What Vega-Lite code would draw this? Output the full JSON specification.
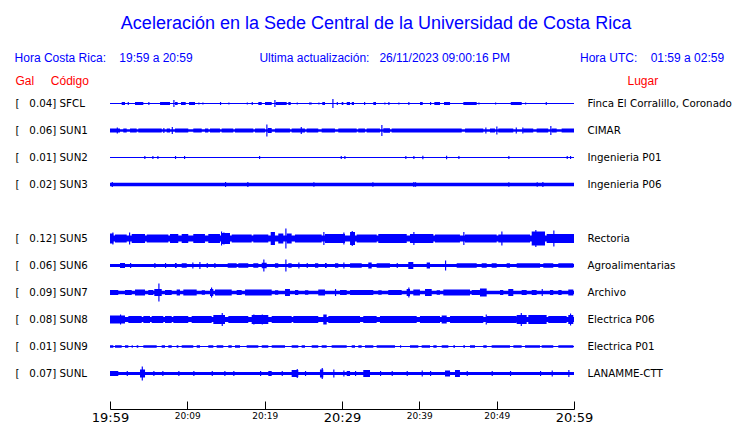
{
"$schema":"https://vega.github.io/schema/vega-lite/v6.json",
"width":464,"height":319,
"autosize":{"type":"none"},
"padding":{"left":110,"top":90,"right":166,"bottom":14},
"background":"white",
"config":{"view":{"stroke":null},"font":"DejaVu Sans"},
"title":{"text":"Aceleración en la Sede Central de la Universidad de Costa Rica","subtitle":"Hora Costa Rica:\u00a0\u00a0\u00a0\u00a019:59 a 20:59\u00a0\u00a0\u00a0\u00a0\u00a0\u00a0\u00a0\u00a0\u00a0\u00a0\u00a0\u00a0\u00a0\u00a0\u00a0\u00a0\u00a0\u00a0\u00a0\u00a0Ultima actualización:\u00a0\u00a0\u00a026/11/2023 09:00:16 PM\u00a0\u00a0\u00a0\u00a0\u00a0\u00a0\u00a0\u00a0\u00a0\u00a0\u00a0\u00a0\u00a0\u00a0\u00a0\u00a0\u00a0\u00a0\u00a0\u00a0\u00a0Hora UTC:\u00a0\u00a0\u00a0\u00a001:59 a 02:59\u00a0\u00a0\u00a0\u00a0\u200b","color":"#0000ff","subtitleColor":"#0000ff","font":"Liberation Sans","subtitleFont":"Liberation Sans","fontSize":18,"subtitleFontSize":12,"fontWeight":"normal","anchor":"middle","offset":10,"subtitlePadding":20,"dx":34},
"datasets":{
"stations":[
{"s":"SFCL","left":"[\u00a0\u00a0\u00a00.04] SFCL","lugar":"Finca El Corralillo, Coronado","m0":0,"m1":60,"a":1},
{"s":"SUN1","left":"[\u00a0\u00a0\u00a00.06] SUN1","lugar":"CIMAR","m0":0,"m1":60,"a":2.5},
{"s":"SUN2","left":"[\u00a0\u00a0\u00a00.01] SUN2","lugar":"Ingenieria P01","m0":0,"m1":60,"a":1},
{"s":"SUN3","left":"[\u00a0\u00a0\u00a00.02] SUN3","lugar":"Ingenieria P06","m0":0,"m1":60,"a":3.5},
{"s":"SUN5","left":"[\u00a0\u00a0\u00a00.12] SUN5","lugar":"Rectoria","m0":0,"m1":60,"a":6},
{"s":"SUN6","left":"[\u00a0\u00a0\u00a00.06] SUN6","lugar":"Agroalimentarias","m0":0,"m1":60,"a":3},
{"s":"SUN7","left":"[\u00a0\u00a0\u00a00.09] SUN7","lugar":"Archivo","m0":0,"m1":60,"a":3.3},
{"s":"SUN8","left":"[\u00a0\u00a0\u00a00.08] SUN8","lugar":"Electrica P06","m0":0,"m1":60,"a":5},
{"s":"SUN9","left":"[\u00a0\u00a0\u00a00.01] SUN9","lugar":"Electrica P01","m0":0,"m1":60,"a":1},
{"s":"SUNL","left":"[\u00a0\u00a0\u00a00.07] SUNL","lugar":"LANAMME-CTT","m0":0,"m1":60,"a":3}
],
"segments":[
{"s":"SFCL","m0":1.51,"m1":1.94,"a":3},{"s":"SFCL","m0":2.29,"m1":2.44,"a":3},{"s":"SFCL","m0":3.23,"m1":4.31,"a":3},{"s":"SFCL","m0":4.95,"m1":5.1,"a":3},{"s":"SFCL","m0":6.47,"m1":7.76,"a":3},{"s":"SFCL","m0":8.19,"m1":8.34,"a":7},{"s":"SFCL","m0":8.41,"m1":8.75,"a":3},{"s":"SFCL","m0":9.18,"m1":9.79,"a":3},{"s":"SFCL","m0":10.22,"m1":10.99,"a":3},{"s":"SFCL","m0":11.42,"m1":11.57,"a":2},{"s":"SFCL","m0":11.94,"m1":12.09,"a":2},{"s":"SFCL","m0":14.22,"m1":14.37,"a":3},{"s":"SFCL","m0":15.3,"m1":15.45,"a":2},{"s":"SFCL","m0":17.68,"m1":17.83,"a":2},{"s":"SFCL","m0":18.32,"m1":18.47,"a":3},{"s":"SFCL","m0":19.18,"m1":19.62,"a":3},{"s":"SFCL","m0":20.04,"m1":20.91,"a":3},{"s":"SFCL","m0":21.25,"m1":21.4,"a":7},{"s":"SFCL","m0":21.43,"m1":22.85,"a":3},{"s":"SFCL","m0":23.06,"m1":23.37,"a":3},{"s":"SFCL","m0":24.14,"m1":24.29,"a":2},{"s":"SFCL","m0":25.73,"m1":26.08,"a":2},{"s":"SFCL","m0":26.94,"m1":27.09,"a":2},{"s":"SFCL","m0":27.45,"m1":27.8,"a":3},{"s":"SFCL","m0":28.75,"m1":28.9,"a":9},{"s":"SFCL","m0":29.32,"m1":29.47,"a":3},{"s":"SFCL","m0":29.96,"m1":30.17,"a":3},{"s":"SFCL","m0":30.61,"m1":31.04,"a":3},{"s":"SFCL","m0":31.26,"m1":31.55,"a":3},{"s":"SFCL","m0":32.85,"m1":33.0,"a":3},{"s":"SFCL","m0":34.05,"m1":34.4,"a":3},{"s":"SFCL","m0":35.47,"m1":35.62,"a":2},{"s":"SFCL","m0":35.99,"m1":36.14,"a":3},{"s":"SFCL","m0":37.28,"m1":37.43,"a":2},{"s":"SFCL","m0":38.57,"m1":38.72,"a":3},{"s":"SFCL","m0":40.09,"m1":40.44,"a":3},{"s":"SFCL","m0":41.38,"m1":41.53,"a":3},{"s":"SFCL","m0":41.94,"m1":42.67,"a":3},{"s":"SFCL","m0":43.19,"m1":43.97,"a":3},{"s":"SFCL","m0":45.69,"m1":47.42,"a":3},{"s":"SFCL","m0":47.63,"m1":47.78,"a":2},{"s":"SFCL","m0":49.79,"m1":49.94,"a":2},{"s":"SFCL","m0":51.82,"m1":53.24,"a":3},{"s":"SFCL","m0":53.67,"m1":53.82,"a":2},{"s":"SFCL","m0":56.34,"m1":56.49,"a":3},
{"s":"SUN1","m0":0,"m1":1.29,"a":4},{"s":"SUN1","m0":0.87,"m1":1.02,"a":6},{"s":"SUN1","m0":1.72,"m1":2.16,"a":4},{"s":"SUN1","m0":2.59,"m1":3.45,"a":4},{"s":"SUN1","m0":3.66,"m1":6.69,"a":4},{"s":"SUN1","m0":6.89,"m1":7.04,"a":5},{"s":"SUN1","m0":7.33,"m1":7.76,"a":4},{"s":"SUN1","m0":7.98,"m1":8.13,"a":7},{"s":"SUN1","m0":8.4,"m1":10.12,"a":4},{"s":"SUN1","m0":10.77,"m1":11.86,"a":4},{"s":"SUN1","m0":12.28,"m1":12.71,"a":4},{"s":"SUN1","m0":12.93,"m1":14.22,"a":4},{"s":"SUN1","m0":14.44,"m1":15.94,"a":4},{"s":"SUN1","m0":16.16,"m1":18.53,"a":4},{"s":"SUN1","m0":18.75,"m1":20.04,"a":4},{"s":"SUN1","m0":20.21,"m1":20.36,"a":12},{"s":"SUN1","m0":20.39,"m1":20.91,"a":5},{"s":"SUN1","m0":21.33,"m1":23.27,"a":4},{"s":"SUN1","m0":23.49,"m1":25.21,"a":4},{"s":"SUN1","m0":24.66,"m1":24.81,"a":7},{"s":"SUN1","m0":25.43,"m1":26.93,"a":4},{"s":"SUN1","m0":27.37,"m1":29.09,"a":4},{"s":"SUN1","m0":29.52,"m1":31.9,"a":4},{"s":"SUN1","m0":32.1,"m1":32.97,"a":4},{"s":"SUN1","m0":33.19,"m1":34.91,"a":4},{"s":"SUN1","m0":35.08,"m1":35.23,"a":11},{"s":"SUN1","m0":35.34,"m1":36.2,"a":4.5},{"s":"SUN1","m0":36.42,"m1":45.48,"a":4},{"s":"SUN1","m0":45.91,"m1":48.27,"a":4},{"s":"SUN1","m0":48.53,"m1":48.68,"a":6},{"s":"SUN1","m0":49.13,"m1":49.78,"a":4},{"s":"SUN1","m0":49.95,"m1":50.1,"a":8},{"s":"SUN1","m0":50.21,"m1":52.15,"a":4},{"s":"SUN1","m0":52.46,"m1":52.61,"a":6},{"s":"SUN1","m0":53.31,"m1":53.46,"a":6},{"s":"SUN1","m0":53.44,"m1":54.73,"a":4},{"s":"SUN1","m0":55.17,"m1":56.67,"a":4},{"s":"SUN1","m0":56.93,"m1":57.08,"a":9},{"s":"SUN1","m0":57.11,"m1":57.76,"a":4},{"s":"SUN1","m0":58.4,"m1":60,"a":4},
{"s":"SUN2","m0":4.43,"m1":4.58,"a":3},{"s":"SUN2","m0":5.47,"m1":5.62,"a":3},{"s":"SUN2","m0":6.12,"m1":6.27,"a":3},{"s":"SUN2","m0":8.4,"m1":8.55,"a":3},{"s":"SUN2","m0":9.57,"m1":9.72,"a":3},{"s":"SUN2","m0":19.27,"m1":19.42,"a":3},{"s":"SUN2","m0":29.83,"m1":29.98,"a":3},{"s":"SUN2","m0":30.3,"m1":30.45,"a":3},{"s":"SUN2","m0":38.18,"m1":38.33,"a":3},{"s":"SUN2","m0":39.22,"m1":39.37,"a":3},{"s":"SUN2","m0":40.38,"m1":40.53,"a":3.5},{"s":"SUN2","m0":43.45,"m1":43.6,"a":3.5},{"s":"SUN2","m0":45.04,"m1":45.19,"a":3},{"s":"SUN2","m0":51.5,"m1":51.65,"a":3},{"s":"SUN2","m0":59.05,"m1":59.2,"a":3},{"s":"SUN2","m0":59.48,"m1":59.63,"a":3},
{"s":"SUN3","m0":0.22,"m1":0.37,"a":5},{"s":"SUN3","m0":14.87,"m1":15.02,"a":5},{"s":"SUN3","m0":17.75,"m1":17.9,"a":5},{"s":"SUN3","m0":26.29,"m1":26.44,"a":4.5},{"s":"SUN3","m0":33.92,"m1":34.07,"a":4.5},{"s":"SUN3","m0":39.22,"m1":39.37,"a":5},{"s":"SUN3","m0":39.44,"m1":39.59,"a":4.5},{"s":"SUN3","m0":51.5,"m1":51.65,"a":4.5},{"s":"SUN3","m0":55.17,"m1":55.32,"a":4.5},{"s":"SUN3","m0":55.9,"m1":56.05,"a":5},
{"s":"SUN5","m0":0,"m1":0.43,"a":10},{"s":"SUN5","m0":0.3,"m1":0.45,"a":12},{"s":"SUN5","m0":0.65,"m1":2.16,"a":8},{"s":"SUN5","m0":2.46,"m1":2.61,"a":12},{"s":"SUN5","m0":2.81,"m1":4.53,"a":9},{"s":"SUN5","m0":4.75,"m1":7.54,"a":8},{"s":"SUN5","m0":7.76,"m1":8.83,"a":9},{"s":"SUN5","m0":9.27,"m1":10.12,"a":9},{"s":"SUN5","m0":10.77,"m1":12.28,"a":9},{"s":"SUN5","m0":12.71,"m1":14.22,"a":9},{"s":"SUN5","m0":14.35,"m1":14.5,"a":14},{"s":"SUN5","m0":14.65,"m1":14.8,"a":12},{"s":"SUN5","m0":14.44,"m1":15.52,"a":11},{"s":"SUN5","m0":15.74,"m1":18.32,"a":8},{"s":"SUN5","m0":18.53,"m1":20.47,"a":8},{"s":"SUN5","m0":20.78,"m1":21.33,"a":13},{"s":"SUN5","m0":21.76,"m1":22.41,"a":10},{"s":"SUN5","m0":22.67,"m1":22.82,"a":20},{"s":"SUN5","m0":22.85,"m1":23.49,"a":10},{"s":"SUN5","m0":23.92,"m1":27.37,"a":8},{"s":"SUN5","m0":27.58,"m1":27.73,"a":13},{"s":"SUN5","m0":27.8,"m1":30.39,"a":9},{"s":"SUN5","m0":30.17,"m1":30.32,"a":12},{"s":"SUN5","m0":31.04,"m1":31.68,"a":13},{"s":"SUN5","m0":31.25,"m1":31.4,"a":15},{"s":"SUN5","m0":31.9,"m1":34.49,"a":8},{"s":"SUN5","m0":34.69,"m1":38.37,"a":9},{"s":"SUN5","m0":38.79,"m1":41.81,"a":9},{"s":"SUN5","m0":39.22,"m1":39.37,"a":13},{"s":"SUN5","m0":42.02,"m1":45.25,"a":8},{"s":"SUN5","m0":45.68,"m1":45.83,"a":13},{"s":"SUN5","m0":45.9,"m1":50.0,"a":8},{"s":"SUN5","m0":50.6,"m1":50.75,"a":14},{"s":"SUN5","m0":50.21,"m1":54.31,"a":8},{"s":"SUN5","m0":54.53,"m1":56.25,"a":14},{"s":"SUN5","m0":54.99,"m1":55.14,"a":17},{"s":"SUN5","m0":56.47,"m1":60,"a":9},{"s":"SUN5","m0":57.32,"m1":57.47,"a":16},
{"s":"SUN6","m0":1.29,"m1":1.94,"a":5},{"s":"SUN6","m0":2.59,"m1":2.74,"a":5},{"s":"SUN6","m0":5.73,"m1":5.88,"a":5},{"s":"SUN6","m0":7.11,"m1":7.26,"a":5},{"s":"SUN6","m0":8.4,"m1":8.62,"a":5},{"s":"SUN6","m0":9.27,"m1":9.92,"a":4.5},{"s":"SUN6","m0":10.64,"m1":10.79,"a":6},{"s":"SUN6","m0":11.55,"m1":11.7,"a":7},{"s":"SUN6","m0":12.5,"m1":12.65,"a":5},{"s":"SUN6","m0":13.49,"m1":13.64,"a":5},{"s":"SUN6","m0":15.22,"m1":16.38,"a":4.5},{"s":"SUN6","m0":16.59,"m1":17.88,"a":4.5},{"s":"SUN6","m0":18.53,"m1":19.18,"a":4.5},{"s":"SUN6","m0":19.62,"m1":20.26,"a":5.5},{"s":"SUN6","m0":19.82,"m1":19.97,"a":12},{"s":"SUN6","m0":21.33,"m1":21.76,"a":4.5},{"s":"SUN6","m0":22.67,"m1":22.82,"a":12},{"s":"SUN6","m0":23.05,"m1":23.49,"a":4.5},{"s":"SUN6","m0":24.35,"m1":24.5,"a":6},{"s":"SUN6","m0":25.43,"m1":25.58,"a":5},{"s":"SUN6","m0":26.51,"m1":26.93,"a":4.5},{"s":"SUN6","m0":27.8,"m1":28.02,"a":5},{"s":"SUN6","m0":29.09,"m1":29.52,"a":4.5},{"s":"SUN6","m0":30.17,"m1":30.32,"a":6},{"s":"SUN6","m0":31.04,"m1":32.55,"a":4.5},{"s":"SUN6","m0":33.4,"m1":33.84,"a":6},{"s":"SUN6","m0":34.48,"m1":36.2,"a":4.5},{"s":"SUN6","m0":37.07,"m1":37.22,"a":5},{"s":"SUN6","m0":38.57,"m1":39.22,"a":7},{"s":"SUN6","m0":40.95,"m1":41.38,"a":6},{"s":"SUN6","m0":43.32,"m1":43.47,"a":10},{"s":"SUN6","m0":44.83,"m1":47.42,"a":4.5},{"s":"SUN6","m0":48.06,"m1":48.71,"a":4.5},{"s":"SUN6","m0":49.35,"m1":50.0,"a":4.5},{"s":"SUN6","m0":51.29,"m1":51.72,"a":4.5},{"s":"SUN6","m0":52.59,"m1":55.61,"a":4.5},{"s":"SUN6","m0":56.03,"m1":57.32,"a":4.5},{"s":"SUN6","m0":57.97,"m1":59.91,"a":4.5},
{"s":"SUN7","m0":0,"m1":1.07,"a":5},{"s":"SUN7","m0":1.94,"m1":2.81,"a":5},{"s":"SUN7","m0":3.23,"m1":4.53,"a":6},{"s":"SUN7","m0":4.95,"m1":5.6,"a":5},{"s":"SUN7","m0":5.73,"m1":6.69,"a":7},{"s":"SUN7","m0":6.25,"m1":6.4,"a":18},{"s":"SUN7","m0":7.11,"m1":7.98,"a":5},{"s":"SUN7","m0":8.62,"m1":9.05,"a":6},{"s":"SUN7","m0":9.48,"m1":11.21,"a":6},{"s":"SUN7","m0":11.86,"m1":12.28,"a":4.5},{"s":"SUN7","m0":12.93,"m1":13.36,"a":7},{"s":"SUN7","m0":13.06,"m1":13.21,"a":10},{"s":"SUN7","m0":13.58,"m1":15.74,"a":6},{"s":"SUN7","m0":16.38,"m1":17.03,"a":5},{"s":"SUN7","m0":17.46,"m1":20.91,"a":6},{"s":"SUN7","m0":21.33,"m1":21.76,"a":4.5},{"s":"SUN7","m0":22.63,"m1":23.27,"a":7},{"s":"SUN7","m0":23.92,"m1":24.35,"a":5},{"s":"SUN7","m0":25.21,"m1":25.65,"a":4.5},{"s":"SUN7","m0":26.93,"m1":27.8,"a":6},{"s":"SUN7","m0":29.09,"m1":29.24,"a":7},{"s":"SUN7","m0":29.74,"m1":30.61,"a":5},{"s":"SUN7","m0":31.04,"m1":34.05,"a":5},{"s":"SUN7","m0":34.69,"m1":35.13,"a":4.5},{"s":"SUN7","m0":35.98,"m1":37.72,"a":5},{"s":"SUN7","m0":38.36,"m1":38.79,"a":7},{"s":"SUN7","m0":38.57,"m1":38.72,"a":10},{"s":"SUN7","m0":39.22,"m1":40.08,"a":6},{"s":"SUN7","m0":40.73,"m1":41.6,"a":7},{"s":"SUN7","m0":42.24,"m1":42.67,"a":4.5},{"s":"SUN7","m0":43.1,"m1":46.55,"a":6},{"s":"SUN7","m0":46.77,"m1":47.84,"a":5},{"s":"SUN7","m0":47.84,"m1":48.71,"a":8},{"s":"SUN7","m0":50.43,"m1":50.86,"a":5},{"s":"SUN7","m0":51.5,"m1":52.15,"a":7},{"s":"SUN7","m0":53.23,"m1":53.88,"a":5},{"s":"SUN7","m0":54.53,"m1":55.17,"a":5},{"s":"SUN7","m0":55.82,"m1":55.97,"a":7},{"s":"SUN7","m0":56.89,"m1":57.32,"a":5},{"s":"SUN7","m0":57.97,"m1":58.4,"a":5},{"s":"SUN7","m0":59.26,"m1":59.91,"a":6},
{"s":"SUN8","m0":0,"m1":1.94,"a":8},{"s":"SUN8","m0":1.29,"m1":1.44,"a":10},{"s":"SUN8","m0":2.37,"m1":4.1,"a":7},{"s":"SUN8","m0":4.31,"m1":5.17,"a":7},{"s":"SUN8","m0":5.39,"m1":6.89,"a":7},{"s":"SUN8","m0":7.11,"m1":7.98,"a":7},{"s":"SUN8","m0":8.19,"m1":10.12,"a":7},{"s":"SUN8","m0":10.56,"m1":13.15,"a":7},{"s":"SUN8","m0":13.36,"m1":14.87,"a":9},{"s":"SUN8","m0":14.44,"m1":14.59,"a":13},{"s":"SUN8","m0":15.3,"m1":17.88,"a":7},{"s":"SUN8","m0":18.32,"m1":20.47,"a":9},{"s":"SUN8","m0":18.53,"m1":18.68,"a":10},{"s":"SUN8","m0":19.62,"m1":19.77,"a":10},{"s":"SUN8","m0":20.91,"m1":23.49,"a":7},{"s":"SUN8","m0":23.7,"m1":26.93,"a":7},{"s":"SUN8","m0":27.58,"m1":28.02,"a":10},{"s":"SUN8","m0":28.23,"m1":32.33,"a":7},{"s":"SUN8","m0":32.75,"m1":34.48,"a":7},{"s":"SUN8","m0":34.91,"m1":39.66,"a":7},{"s":"SUN8","m0":40.08,"m1":42.67,"a":7},{"s":"SUN8","m0":42.89,"m1":43.54,"a":8},{"s":"SUN8","m0":43.97,"m1":48.27,"a":7},{"s":"SUN8","m0":48.58,"m1":48.73,"a":10},{"s":"SUN8","m0":48.71,"m1":52.59,"a":7},{"s":"SUN8","m0":52.59,"m1":53.88,"a":9},{"s":"SUN8","m0":53.11,"m1":53.26,"a":13},{"s":"SUN8","m0":54.09,"m1":56.46,"a":9},{"s":"SUN8","m0":56.67,"m1":59.05,"a":7},{"s":"SUN8","m0":59.26,"m1":59.91,"a":9},{"s":"SUN8","m0":59.48,"m1":59.63,"a":12},
{"s":"SUN9","m0":0,"m1":0.43,"a":2.5},{"s":"SUN9","m0":0.65,"m1":1.51,"a":2.5},{"s":"SUN9","m0":1.94,"m1":2.37,"a":2.5},{"s":"SUN9","m0":2.8,"m1":2.95,"a":2.5},{"s":"SUN9","m0":3.45,"m1":3.66,"a":2.5},{"s":"SUN9","m0":4.31,"m1":6.04,"a":2.5},{"s":"SUN9","m0":6.68,"m1":7.11,"a":2.5},{"s":"SUN9","m0":7.54,"m1":7.98,"a":2.5},{"s":"SUN9","m0":8.62,"m1":8.84,"a":2.5},{"s":"SUN9","m0":9.27,"m1":10.77,"a":2.5},{"s":"SUN9","m0":11.21,"m1":11.64,"a":2.5},{"s":"SUN9","m0":12.71,"m1":13.36,"a":2.5},{"s":"SUN9","m0":13.79,"m1":14.65,"a":2.5},{"s":"SUN9","m0":15.3,"m1":15.74,"a":2.5},{"s":"SUN9","m0":16.16,"m1":16.81,"a":2.5},{"s":"SUN9","m0":17.67,"m1":19.18,"a":2.5},{"s":"SUN9","m0":19.62,"m1":20.47,"a":2.5},{"s":"SUN9","m0":20.91,"m1":22.63,"a":2.5},{"s":"SUN9","m0":23.49,"m1":24.35,"a":2.5},{"s":"SUN9","m0":24.78,"m1":25.21,"a":2.5},{"s":"SUN9","m0":26.08,"m1":26.93,"a":2.5},{"s":"SUN9","m0":27.37,"m1":28.02,"a":2.5},{"s":"SUN9","m0":28.66,"m1":30.61,"a":2.5},{"s":"SUN9","m0":31.25,"m1":31.68,"a":2.5},{"s":"SUN9","m0":32.11,"m1":32.54,"a":2.5},{"s":"SUN9","m0":32.97,"m1":34.05,"a":2.5},{"s":"SUN9","m0":34.48,"m1":36.85,"a":2.5},{"s":"SUN9","m0":37.5,"m1":37.65,"a":2.5},{"s":"SUN9","m0":38.79,"m1":39.87,"a":2.5},{"s":"SUN9","m0":40.3,"m1":41.38,"a":2.5},{"s":"SUN9","m0":41.81,"m1":42.24,"a":2.5},{"s":"SUN9","m0":42.89,"m1":43.75,"a":2.5},{"s":"SUN9","m0":44.4,"m1":44.61,"a":2.5},{"s":"SUN9","m0":45.69,"m1":45.9,"a":2.5},{"s":"SUN9","m0":46.55,"m1":47.2,"a":2.5},{"s":"SUN9","m0":48.27,"m1":48.71,"a":2.5},{"s":"SUN9","m0":49.35,"m1":51.72,"a":2.5},{"s":"SUN9","m0":52.16,"m1":53.23,"a":2.5},{"s":"SUN9","m0":53.67,"m1":55.6,"a":2.5},{"s":"SUN9","m0":55.82,"m1":57.32,"a":2.5},{"s":"SUN9","m0":57.97,"m1":59.91,"a":2.5},
{"s":"SUNL","m0":0,"m1":1.07,"a":5},{"s":"SUNL","m0":2.16,"m1":2.31,"a":5},{"s":"SUNL","m0":3.88,"m1":4.53,"a":8},{"s":"SUNL","m0":4.1,"m1":4.25,"a":14},{"s":"SUNL","m0":5.6,"m1":5.75,"a":5},{"s":"SUNL","m0":6.76,"m1":6.91,"a":5},{"s":"SUNL","m0":8.83,"m1":8.98,"a":5},{"s":"SUNL","m0":10.77,"m1":10.92,"a":5},{"s":"SUNL","m0":13.15,"m1":13.3,"a":5},{"s":"SUNL","m0":14.78,"m1":14.93,"a":5},{"s":"SUNL","m0":15.94,"m1":16.09,"a":5},{"s":"SUNL","m0":19.4,"m1":19.55,"a":5},{"s":"SUNL","m0":20.47,"m1":20.91,"a":5},{"s":"SUNL","m0":22.2,"m1":22.35,"a":5},{"s":"SUNL","m0":23.49,"m1":24.35,"a":7},{"s":"SUNL","m0":24.14,"m1":24.29,"a":9},{"s":"SUNL","m0":25.21,"m1":25.36,"a":5},{"s":"SUNL","m0":27.15,"m1":27.58,"a":8},{"s":"SUNL","m0":27.37,"m1":27.52,"a":11},{"s":"SUNL","m0":28.87,"m1":29.02,"a":8},{"s":"SUNL","m0":30.17,"m1":30.32,"a":6},{"s":"SUNL","m0":30.61,"m1":31.04,"a":5},{"s":"SUNL","m0":31.68,"m1":31.83,"a":5},{"s":"SUNL","m0":32.75,"m1":33.62,"a":7},{"s":"SUNL","m0":34.91,"m1":35.06,"a":5},{"s":"SUNL","m0":36.42,"m1":36.57,"a":5},{"s":"SUNL","m0":38.36,"m1":38.51,"a":5},{"s":"SUNL","m0":40.3,"m1":40.45,"a":6},{"s":"SUNL","m0":41.38,"m1":41.53,"a":5},{"s":"SUNL","m0":43.32,"m1":43.97,"a":6},{"s":"SUNL","m0":44.61,"m1":45.25,"a":7},{"s":"SUNL","m0":46.12,"m1":46.27,"a":5},{"s":"SUNL","m0":49.35,"m1":49.5,"a":5},{"s":"SUNL","m0":51.72,"m1":51.87,"a":5},{"s":"SUNL","m0":55.6,"m1":55.75,"a":5},{"s":"SUNL","m0":57.11,"m1":57.26,"a":6},{"s":"SUNL","m0":59.26,"m1":59.41,"a":7}
]
},
"layer":[
{"data":{"name":"stations"},
 "mark":{"type":"bar","color":"#0000ff"},
 "encoding":{
  "x":{"field":"m0","type":"quantitative","scale":{"domain":[0,60],"nice":false,"zero":false},
   "axis":{"title":null,"orient":"bottom","values":[0,5,10,15,20,25,30,35,40,45,50,55,60],"grid":false,"domainColor":"black","domainWidth":1,"tickColor":"black","tickWidth":1,"tickSize":-8,"labelPadding":10,"labelBaseline":"top","labelFont":"DejaVu Sans","labelColor":"black","labelFlush":false,"labelOverlap":false,
    "labelExpr":"datum.value % 10 === 0 ? timeFormat(datetime(2023, 10, 26, 19, 59 + datum.value), '%H:%M') : ''",
    "labelFontSize":{"condition":{"test":"datum.value % 30 === 0","value":13},"value":9}}},
  "x2":{"field":"m1"},
  "y":{"field":"left","type":"nominal","scale":{"domain":["[\u00a0\u00a0\u00a00.04] SFCL","[\u00a0\u00a0\u00a00.06] SUN1","[\u00a0\u00a0\u00a00.01] SUN2","[\u00a0\u00a0\u00a00.02] SUN3"," ","[\u00a0\u00a0\u00a00.12] SUN5","[\u00a0\u00a0\u00a00.06] SUN6","[\u00a0\u00a0\u00a00.09] SUN7","[\u00a0\u00a0\u00a00.08] SUN8","[\u00a0\u00a0\u00a00.01] SUN9","[\u00a0\u00a0\u00a00.07] SUNL"],"range":[0,297],"paddingInner":0,"paddingOuter":0},
   "axis":{"orient":"left","domain":false,"ticks":false,"grid":false,"labelAlign":"left","labelPadding":95,"labelFont":"DejaVu Sans","labelFontSize":10.3,"labelColor":"black","labelLimit":0,
    "title":"Gal\u00a0\u00a0\u00a0\u00a0\u00a0Código","titleColor":"#ff0000","titleFont":"Liberation Sans","titleFontSize":12,"titleFontWeight":"normal","titleAngle":0,"titleAlign":"left","titleBaseline":"alphabetic","titleX":-95,"titleY":-6}},
  "size":{"field":"a","type":"quantitative","scale":{"type":"linear","domain":[0,40],"range":[0,40]},"legend":null}}},
{"data":{"name":"stations"},
 "mark":{"type":"bar","color":"#0000ff","opacity":0},
 "encoding":{
  "x":{"field":"m0","type":"quantitative"},
  "x2":{"field":"m1"},
  "y":{"field":"lugar","type":"nominal","scale":{"domain":["Finca El Corralillo, Coronado","CIMAR","Ingenieria P01","Ingenieria P06"," ","Rectoria","Agroalimentarias","Archivo","Electrica P06","Electrica P01","LANAMME-CTT"],"range":[0,297],"paddingInner":0,"paddingOuter":0},
   "axis":{"orient":"right","domain":false,"ticks":false,"grid":false,"labelAlign":"left","labelPadding":13,"labelFont":"DejaVu Sans","labelFontSize":10.3,"labelColor":"black","labelLimit":0,
    "title":"Lugar","titleColor":"#ff0000","titleFont":"Liberation Sans","titleFontSize":12,"titleFontWeight":"normal","titleAngle":0,"titleAlign":"left","titleBaseline":"alphabetic","titleX":53,"titleY":-6}},
  "size":{"field":"a","type":"quantitative","legend":null}}},
{"data":{"name":"segments"},
 "mark":{"type":"bar","color":"#0000ff"},
 "encoding":{
  "x":{"field":"m0","type":"quantitative"},
  "x2":{"field":"m1"},
  "y":{"field":"s","type":"nominal","scale":{"domain":["SFCL","SUN1","SUN2","SUN3"," ","SUN5","SUN6","SUN7","SUN8","SUN9","SUNL"],"range":[0,297],"paddingInner":0,"paddingOuter":0},"axis":null},
  "size":{"field":"a","type":"quantitative","legend":null}}}
],
"resolve":{"scale":{"y":"independent"},"axis":{"y":"independent"}}
}
